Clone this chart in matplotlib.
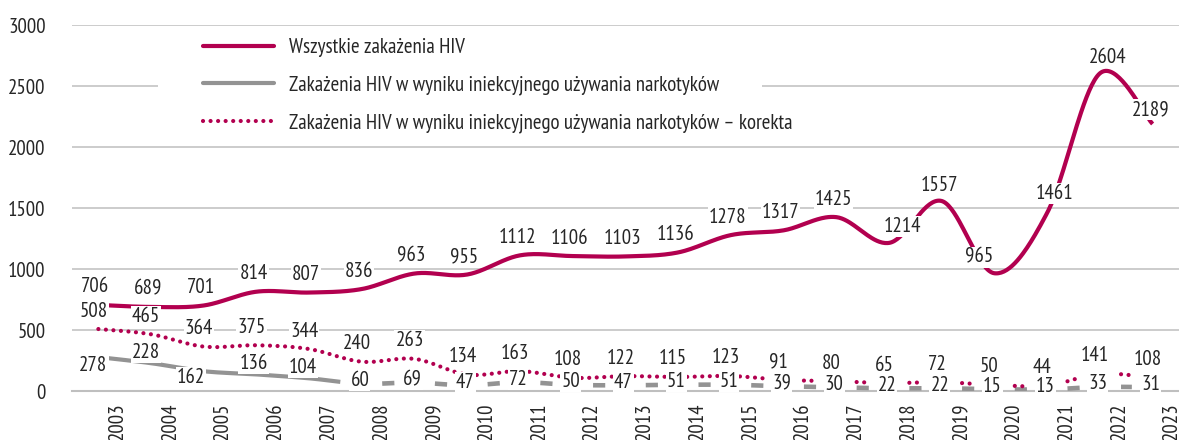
import numpy as np
import matplotlib.pyplot as plt
from matplotlib.patches import Rectangle

#---------------------------------------------------
# data
#---------------------------------------------------
years = list(range(2003, 2024))
all_hiv = [706, 689, 701, 814, 807, 836, 963, 955, 1112, 1106, 1103,
           1136, 1278, 1317, 1425, 1214, 1557, 965, 1461, 2604, 2189]
idu_hiv = [278, 228, 162, 136, 104, 60, 69, 47, 72, 50, 47,
           51, 51, 39, 30, 22, 22, 15, 13, 33, 31]
idu_corr = [508, 465, 364, 375, 344, 240, 263, 134, 163, 108, 122,
            115, 123, 91, 80, 65, 72, 50, 44, 141, 108]

series_names = ["Wszystkie zakażenia HIV",
                "Zakażenia HIV w wyniku iniekcyjnego używania narkotyków",
                "Zakażenia HIV w wyniku iniekcyjnego używania narkotyków – korekta"]

#---------------------------------------------------
# style / label layout (pixel offsets of data labels)
#---------------------------------------------------
PINK = "#B2004F"
GRAY = "#939393"
TXT = "#262626"
FS = 15

off_all = [(-3, 18)] * 15 + [(13, 16), (-2, 16), (-15, 16), (7, 19), (8, 16), (-2, 14)]
off_corr = [(-5, 18)] * 21
off_idu = [(-5, -8), (-5, 11), (-13, -6), (-3, 11), (-6, 11)] + [(-2, 3)] * 16

plt.rcParams['font.family'] = ['PT Sans Narrow', 'DejaVu Sans']


def smooth(vals, n=40):
    # excel-like smoothed line (catmull-rom as bezier)
    x = np.arange(len(vals), dtype=float)
    p = np.column_stack([x, np.asarray(vals, dtype=float)])
    pp = np.vstack([p[0], p, p[-1]])
    t = np.linspace(0, 1, n)[:, None]
    out = []
    for i in range(len(vals) - 1):
        p0, p1, p2, p3 = pp[i], pp[i + 1], pp[i + 2], pp[i + 3]
        b1 = p1 + (p2 - p0) / 6
        b2 = p2 - (p3 - p1) / 6
        seg = (1 - t) ** 3 * p1 + 3 * (1 - t) ** 2 * t * b1 + 3 * (1 - t) * t ** 2 * b2 + t ** 3 * p2
        out.append(seg if i == 0 else seg[1:])
    return np.vstack(out)


def piece(curve, a, b):
    m = (curve[:, 0] >= a) & (curve[:, 0] <= b)
    return curve[m, 0], curve[m, 1]


fig = plt.figure(figsize=(11.79, 4.4), dpi=100)
ax = fig.add_axes([72 / 1179, 49 / 440, 1107 / 1179, 366 / 440])

x = np.arange(len(years))

c_all = smooth(all_hiv)
c_idu = smooth(idu_hiv)
c_corr = smooth(idu_corr)

ax.plot(c_all[:, 0], c_all[:, 1], color=PINK, lw=3, solid_capstyle='butt', zorder=3)

# injecting drug use: solid until 2007, then short dashes
xs, ys = piece(c_idu, 0, 4.6)
ax.plot(xs, ys, color=GRAY, lw=3, solid_capstyle='butt', zorder=3)
for i in range(5, len(years) - 1):
    xs, ys = piece(c_idu, i + 0.38, i + 0.62)
    ax.plot(xs, ys, color=GRAY, lw=3.3, solid_capstyle='butt', zorder=3)

# corrected series: dotted until 2015, then short dotted pieces
dots = (0, (0.01, 1.8))
xs, ys = piece(c_corr, 0, 12.72)
ax.plot(xs, ys, color=PINK, lw=3, ls=dots, dash_capstyle='round', zorder=3)
for i in range(13, len(years) - 1):
    xs, ys = piece(c_corr, i + 0.38, i + 0.62)
    ax.plot(xs, ys, color=PINK, lw=3, ls=dots, dash_capstyle='round', zorder=3)

# data labels
box = dict(boxstyle='square,pad=0.05', fc='white', ec='none')
for vals, offs in [(all_hiv, off_all), (idu_corr, off_corr), (idu_hiv, off_idu)]:
    for xi, v, (dx, dy) in zip(x, vals, offs):
        ax.annotate(str(v), (xi, v), xytext=(dx, dy), textcoords='offset pixels',
                    ha='center', va='center', fontsize=FS, color=TXT, bbox=box, zorder=5)

ax.set_xlim(-0.5, len(years) - 0.5)
ax.set_ylim(0, 3000)
ax.set_yticks(range(0, 3001, 500))
ax.set_xticks(x + 0.36, [str(y) for y in years], rotation=90)
ax.tick_params(axis='both', length=0, labelsize=FS, labelcolor=TXT)
ax.tick_params(axis='y', pad=19)
ax.tick_params(axis='x', pad=8)
ax.grid(axis='y', color='#BFBFBF', lw=1.1)
ax.set_axisbelow(True)
for s in ['top', 'right', 'left']:
    ax.spines[s].set_visible(False)
ax.spines['bottom'].set_color('#BFBFBF')
ax.spines['bottom'].set_linewidth(1.5)

# white area behind legend (hides part of the 2500 gridline)
ax.add_patch(Rectangle((0.078, 0.70), 0.545, 0.27, transform=ax.transAxes,
                       fc='white', ec='none', zorder=1))

handles = [plt.Line2D([], [], color=PINK, lw=3, solid_capstyle='round'),
           plt.Line2D([], [], color=GRAY, lw=3, solid_capstyle='round'),
           plt.Line2D([], [], color=PINK, lw=3, ls=dots, dash_capstyle='round')]
leg = fig.legend(handles, series_names, loc='upper left', bbox_to_anchor=(203 / 1179, 1 - 38.5 / 440),
                 frameon=False, fontsize=FS, handlelength=3.4, handletextpad=0.72,
                 labelspacing=0.86, borderpad=0, borderaxespad=0, labelcolor=TXT)

fig.savefig('out.png', dpi=100)
